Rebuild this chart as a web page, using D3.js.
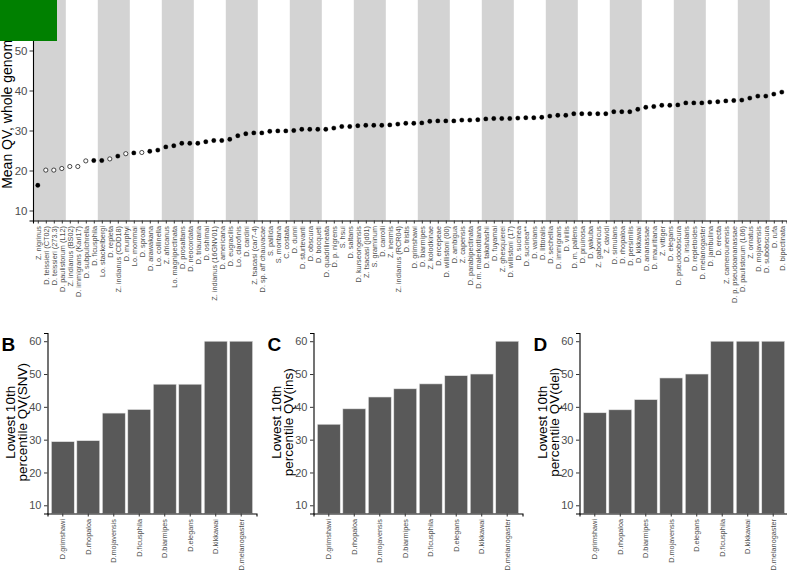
<!DOCTYPE html>
<html><head><meta charset="utf-8">
<script src="https://cdn.jsdelivr.net/npm/d3@7/dist/d3.min.js"></script>
<style>
html,body{margin:0;padding:0;background:#fff;}
svg{display:block;font-family:"Liberation Sans",Arial,sans-serif;}
</style></head>
<body><svg id="c" width="787" height="571"></svg>
<script>
const species = ["Z. nigrinus","D. teissieri (CT02)","D. teissieri (273.3)","D. paulistorum (L12)","Z. indianus (BS02)","D. immigrans (Kari17)","D. subpulchrella","D. ficusphila","Lo. stackelbergi","D. repleta","Z. indianus (CDD18)","D. murphyi","Lo. mommai","D. sproati","D. arawakana","Lo. collinella","Z. africanus","Lo. magnipectinata","D. prosaltans","D. neocordata","D. triauraria","D. oshimai","Z. indianus (16GNV01)","D. americana","D. eugracilis","Lo. clarofinis","D. cardini","Z. tsacasi (car7-4)","D. sp. aff chauvacae","S. pallida","S. montana","C. costata","D. dunni","D. sturtevanti","D. obscura","D. bocqueti","D. quadrilineata","D. p. nigrens","S. hsui","D. saltans","D. kurseongensis","Z. tsacasi (jd01)","S. graminum","D. carrolli","Z. inermis","Z. indianus (RCR04)","D. tristis","D. grimshawi","D. biarmipes","Z. kolodkinae","D. ercepeae","D. willistoni (00)","D. ambigua","Z. capensis","D. parabipectinata","D. m. malerkotliana","D. takahashii","D. fuyamai","Z. ghesquierei","D. willistoni (17)","D. sucinea","D. sucinea**","D. varians","D. littoralis","D. sechellia","D. immigrans","D. virilis","D. m. pallens","D. pruinosa","D. yakuba","Z. gabonicus","Z. davidi","D. simulans","D. rhopaloa","D. persimilis","D. kikkawai","D. ananassae","D. mauritiana","Z. vittiger","D. elegans","D. pseudoobscura","D. insularis","D. repletoides","D. melanogaster","D. jambulina","D. erecta","Z. camerounensis","D. p. pseudoananassae","D. paulistorum (L06)","Z. ornatus","D. mojavensis","D. subobscura","D. rufa","D. bipectinata"];
const meanQV = [16.3,20.1,20.1,20.5,21.0,21.0,22.4,22.5,22.5,22.9,23.6,24.2,24.4,24.5,24.8,25.1,25.9,26.2,26.8,26.8,26.8,27.2,27.5,27.5,27.8,28.7,29.2,29.4,29.4,29.8,29.9,29.9,30.0,30.3,30.3,30.3,30.3,30.6,31.0,31.0,31.2,31.3,31.3,31.3,31.4,31.6,31.8,31.8,31.9,32.3,32.4,32.4,32.4,32.6,32.6,32.7,32.9,33.0,33.0,33.0,33.1,33.2,33.2,33.3,33.6,33.8,33.8,34.2,34.2,34.2,34.2,34.2,34.7,34.7,34.7,35.3,35.8,36.0,36.3,36.3,36.4,36.9,36.9,36.9,37.1,37.2,37.4,37.5,37.6,38.1,38.6,38.6,39.1,39.6];
const openSpecies = ["D. teissieri (CT02)","D. teissieri (273.3)","D. paulistorum (L12)","Z. indianus (BS02)","D. immigrans (Kari17)","D. subpulchrella","D. repleta","D. murphyi","D. sproati"];
const yTicks = [10,20,30,40,50,60];

const snvSpecies = ["D.grimshawi","D.rhopaloa","D.mojavensis","D.ficusphila","D.biarmipes","D.elegans","D.kikkawai","D.melanogaster"];
const snvValues = [29.4,29.7,38.1,39.2,46.9,46.9,60,60];
const insSpecies = ["D.grimshawi","D.rhopaloa","D.mojavensis","D.biarmipes","D.ficusphila","D.elegans","D.kikkawai","D.melanogaster"];
const insValues = [34.7,39.4,43.0,45.5,47.0,49.5,50.0,60];
const delSpecies = ["D.grimshawi","D.rhopaloa","D.biarmipes","D.mojavensis","D.elegans","D.ficusphila","D.kikkawai","D.melanogaster"];
const delValues = [38.2,39.1,42.2,48.8,50.0,60,60,60];

const svg = d3.select("#c");
const AXIS = "#000", TICK = "#333333", LAB = "#4d4d4d";

// ---------- Panel A ----------
const A = {l:33, r:786.6, t:0.5, b:220.5};
const xA = d3.scalePoint().domain(species).range([A.l, A.r]).padding(0.6);
const yA = d3.scaleLinear().domain([7.5, 62.5]).range([A.b, A.t]);
const step = xA.step();
const gA = svg.append("g");
const bandIdx = d3.range(0, Math.ceil(species.length/4)).filter(k => k % 2 === 0);
gA.selectAll("rect.band").data(bandIdx).enter().append("rect")
  .attr("x", k => Math.max(A.l, xA(species[k*4]) - step/2))
  .attr("width", k => {
    const last = species[Math.min(k*4+3, species.length-1)];
    return Math.min(A.r, xA(last) + step/2) - Math.max(A.l, xA(species[k*4]) - step/2);
  })
  .attr("y", A.t - 0.5).attr("height", A.b - A.t + 0.5)
  .attr("fill", "#d3d3d3");

const pts = species.map((s,i) => ({s, v: meanQV[i], open: openSpecies.includes(s)}));
gA.selectAll("circle").data(pts).enter().append("circle")
  .attr("cx", d => xA(d.s)).attr("cy", d => yA(d.v))
  .attr("r", d => d.open ? 2.1 : 2.2)
  .attr("fill", d => d.open ? "#fff" : "#000")
  .attr("stroke", "#000").attr("stroke-width", d => d.open ? 0.7 : 0.3);

const yAxA = gA.append("g").attr("transform", `translate(${A.l},0)`)
  .call(d3.axisLeft(yA).tickValues(yTicks).tickSize(3.5).tickPadding(2));
const xAxA = gA.append("g").attr("transform", `translate(0,${A.b})`)
  .call(d3.axisBottom(xA).tickSize(3).tickPadding(2));
[yAxA, xAxA].forEach(ax => {
  ax.select(".domain").attr("stroke", AXIS).attr("stroke-width", 1.1);
  ax.selectAll(".tick line").attr("stroke", TICK).attr("stroke-width", 1);
});
yAxA.selectAll("text").attr("font-size", 11.5).attr("fill", LAB).attr("font-family", "Liberation Sans, Arial");
xAxA.selectAll("text").attr("font-size", 7.3).attr("fill", LAB).attr("font-family", "Liberation Sans, Arial")
  .attr("transform", "rotate(-90)").attr("text-anchor", "end")
  .attr("x", -5.5).attr("y", 0).attr("dy", "0.35em");

svg.append("text").attr("transform", `translate(12,${(A.t+A.b)/2}) rotate(-90)`)
  .attr("text-anchor", "middle").attr("font-size", 14).attr("fill", "#000")
  .text("Mean QV, whole genome");

// ---------- Bar panels ----------
function barPanel(left, letter, cats, vals, title2) {
  const P = {l:left, r:left+209, t:333, b:513.5};
  const x = d3.scaleBand().domain(cats).range([P.l, P.r]).paddingInner(0.1).paddingOuter(0.15);
  const y = d3.scaleLinear().domain([7.5, 62.5]).range([P.b, P.t]);
  const g = svg.append("g");
  g.selectAll("rect").data(cats.map((c,i)=>({c, v: vals[i]}))).enter().append("rect")
    .attr("x", d => x(d.c)).attr("width", x.bandwidth())
    .attr("y", d => y(d.v)).attr("height", d => P.b - y(d.v))
    .attr("fill", "#595959").attr("stroke", "#e6e6e6").attr("stroke-width", 0.6);
  const ya = g.append("g").attr("transform", `translate(${P.l},0)`)
    .call(d3.axisLeft(y).tickValues(yTicks).tickSize(3.5).tickPadding(2.5));
  const xa = g.append("g").attr("transform", `translate(0,${P.b})`)
    .call(d3.axisBottom(x).tickSize(3).tickPadding(2));
  [ya, xa].forEach(ax => {
    ax.select(".domain").attr("stroke", AXIS).attr("stroke-width", 1.1);
    ax.selectAll(".tick line").attr("stroke", TICK).attr("stroke-width", 1);
  });
  ya.selectAll("text").attr("font-size", 11).attr("fill", LAB).attr("font-family", "Liberation Sans, Arial");
  xa.selectAll("text").attr("font-size", 7.3).attr("fill", LAB).attr("font-family", "Liberation Sans, Arial")
    .attr("transform", "rotate(-90)").attr("text-anchor", "end")
    .attr("x", -5.5).attr("y", 0).attr("dy", "0.35em");
  const cy = (P.t + P.b) / 2 - 1;
  g.append("text").attr("transform", `translate(${P.l-33},${cy}) rotate(-90)`)
    .attr("text-anchor", "middle").attr("font-size", 13.5).attr("fill", "#000").text("Lowest 10th");
  g.append("text").attr("transform", `translate(${P.l-20.5},${cy}) rotate(-90)`)
    .attr("text-anchor", "middle").attr("font-size", 13.5).attr("fill", "#000").text(title2);
  g.append("text").attr("x", P.l - 46).attr("y", 351).attr("font-size", 19)
    .attr("font-weight", "bold").attr("fill", "#000").text(letter);
}
barPanel(47.5, "B", snvSpecies, snvValues, "percentile QV(SNV)");
barPanel(313.5, "C", insSpecies, insValues, "percentile QV(ins)");
barPanel(579.5, "D", delSpecies, delValues, "percentile QV(del)");

// overlay box (present in the reference)
svg.append("rect").attr("x", 0).attr("y", 0).attr("width", 57).attr("height", 41).attr("fill", "#008000");
</script></body></html>
